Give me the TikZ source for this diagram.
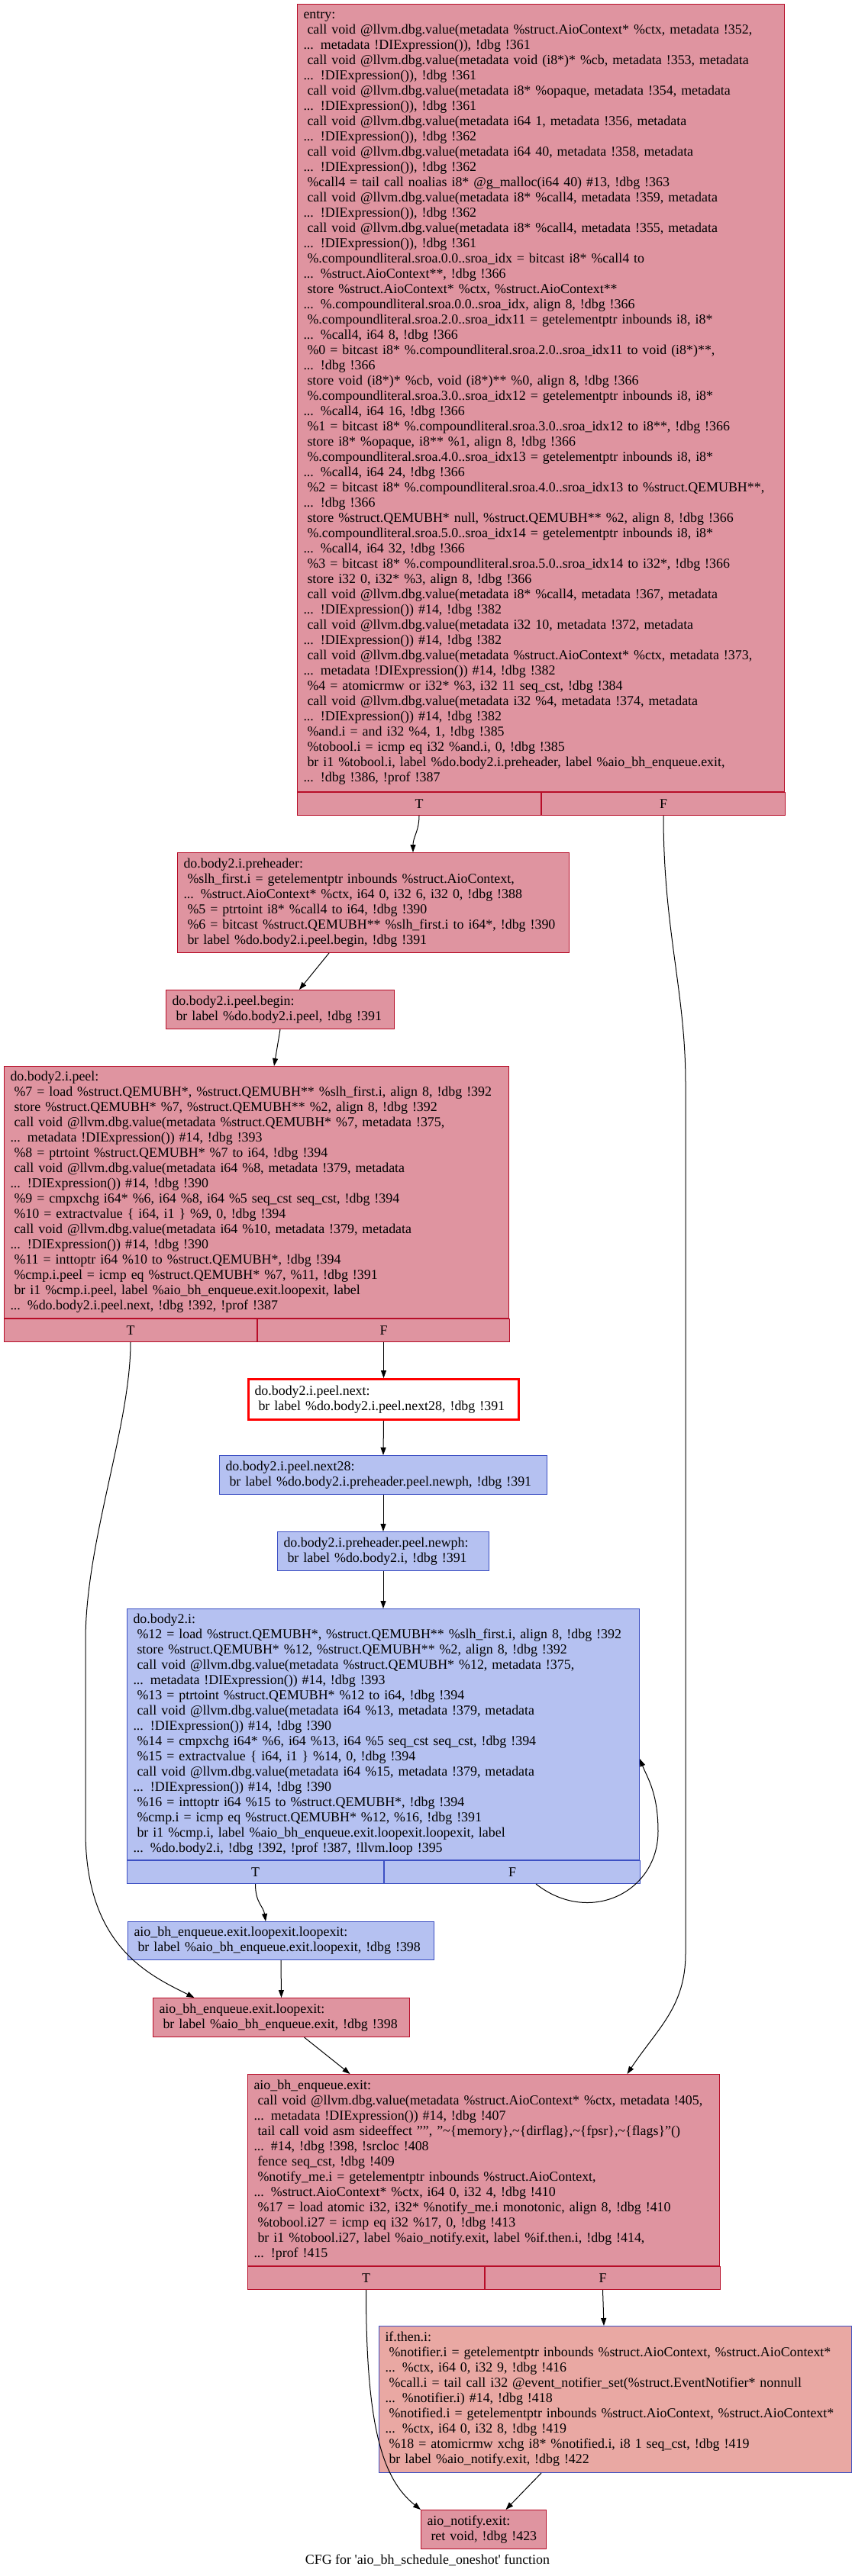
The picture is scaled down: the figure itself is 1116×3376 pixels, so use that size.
\documentclass[tikz,border=0pt]{standalone}
\usepackage{fontspec}
\setmainfont{Liberation Serif}
\usepackage{tikz}
\usetikzlibrary{arrows.meta, positioning}

\definecolor{hotline}{HTML}{B70D28}
\definecolor{hotfill}{RGB}{223,148,160}
\definecolor{coldline}{HTML}{3D50C3}
\definecolor{coldfill}{RGB}{181,193,241}
\definecolor{warmfill}{RGB}{233,168,163}
\newcommand{\lsp}{\hspace*{5pt}}

\begin{document}
\begin{tikzpicture}[
    x=1pt, y=-1pt,
    every node/.style={font=\fontsize{17.9pt}{20pt}\selectfont},
    bb/.style={draw, line width=1pt, anchor=north west, align=left, inner xsep=8pt, inner ysep=0pt},
    hot/.style={bb, draw=hotline, fill=hotfill},
    cold/.style={bb, draw=coldline, fill=coldfill},
    cell/.style={draw, line width=1pt, minimum height=30pt, inner sep=0pt},
    cfgedge/.style={->, line width=1pt},
    >={Triangle[length=10pt, width=7pt]}
]
\useasboundingbox (0,0) rectangle (1116,3376);
\node[hot, text width=622pt, minimum height=1032pt] (entry) at (389,5) {entry:\\
\lsp call void @llvm.dbg.value(metadata \%struct.AioContext* \%ctx, metadata !352,\\
... metadata !DIExpression()), !dbg !361\\
\lsp call void @llvm.dbg.value(metadata void (i8*)* \%cb, metadata !353, metadata\\
... !DIExpression()), !dbg !361\\
\lsp call void @llvm.dbg.value(metadata i8* \%opaque, metadata !354, metadata\\
... !DIExpression()), !dbg !361\\
\lsp call void @llvm.dbg.value(metadata i64 1, metadata !356, metadata\\
... !DIExpression()), !dbg !362\\
\lsp call void @llvm.dbg.value(metadata i64 40, metadata !358, metadata\\
... !DIExpression()), !dbg !362\\
\lsp \%call4 = tail call noalias i8* @g\_malloc(i64 40) \#13, !dbg !363\\
\lsp call void @llvm.dbg.value(metadata i8* \%call4, metadata !359, metadata\\
... !DIExpression()), !dbg !362\\
\lsp call void @llvm.dbg.value(metadata i8* \%call4, metadata !355, metadata\\
... !DIExpression()), !dbg !361\\
\lsp \%.compoundliteral.sroa.0.0..sroa\_idx = bitcast i8* \%call4 to\\
... \%struct.AioContext**, !dbg !366\\
\lsp store \%struct.AioContext* \%ctx, \%struct.AioContext**\\
... \%.compoundliteral.sroa.0.0..sroa\_idx, align 8, !dbg !366\\
\lsp \%.compoundliteral.sroa.2.0..sroa\_idx11 = getelementptr inbounds i8, i8*\\
... \%call4, i64 8, !dbg !366\\
\lsp \%0 = bitcast i8* \%.compoundliteral.sroa.2.0..sroa\_idx11 to void (i8*)**,\\
... !dbg !366\\
\lsp store void (i8*)* \%cb, void (i8*)** \%0, align 8, !dbg !366\\
\lsp \%.compoundliteral.sroa.3.0..sroa\_idx12 = getelementptr inbounds i8, i8*\\
... \%call4, i64 16, !dbg !366\\
\lsp \%1 = bitcast i8* \%.compoundliteral.sroa.3.0..sroa\_idx12 to i8**, !dbg !366\\
\lsp store i8* \%opaque, i8** \%1, align 8, !dbg !366\\
\lsp \%.compoundliteral.sroa.4.0..sroa\_idx13 = getelementptr inbounds i8, i8*\\
... \%call4, i64 24, !dbg !366\\
\lsp \%2 = bitcast i8* \%.compoundliteral.sroa.4.0..sroa\_idx13 to \%struct.QEMUBH**,\\
... !dbg !366\\
\lsp store \%struct.QEMUBH* null, \%struct.QEMUBH** \%2, align 8, !dbg !366\\
\lsp \%.compoundliteral.sroa.5.0..sroa\_idx14 = getelementptr inbounds i8, i8*\\
... \%call4, i64 32, !dbg !366\\
\lsp \%3 = bitcast i8* \%.compoundliteral.sroa.5.0..sroa\_idx14 to i32*, !dbg !366\\
\lsp store i32 0, i32* \%3, align 8, !dbg !366\\
\lsp call void @llvm.dbg.value(metadata i8* \%call4, metadata !367, metadata\\
... !DIExpression()) \#14, !dbg !382\\
\lsp call void @llvm.dbg.value(metadata i32 10, metadata !372, metadata\\
... !DIExpression()) \#14, !dbg !382\\
\lsp call void @llvm.dbg.value(metadata \%struct.AioContext* \%ctx, metadata !373,\\
... metadata !DIExpression()) \#14, !dbg !382\\
\lsp \%4 = atomicrmw or i32* \%3, i32 11 seq\_cst, !dbg !384\\
\lsp call void @llvm.dbg.value(metadata i32 \%4, metadata !374, metadata\\
... !DIExpression()) \#14, !dbg !382\\
\lsp \%and.i = and i32 \%4, 1, !dbg !385\\
\lsp \%tobool.i = icmp eq i32 \%and.i, 0, !dbg !385\\
\lsp br i1 \%tobool.i, label \%do.body2.i.preheader, label \%aio\_bh\_enqueue.exit,\\
... !dbg !386, !prof !387};
\node[cell, draw=hotline, fill=hotfill, minimum width=319pt, below right=0pt of entry.south west] (entryT) {T};
\node[cell, draw=hotline, fill=hotfill, minimum width=319pt, right=0pt of entryT] (entryF) {F};

\node[hot, text width=497pt, minimum height=131pt] (pre) at (232,1117) {do.body2.i.preheader:\\
\lsp \%slh\_first.i = getelementptr inbounds \%struct.AioContext,\\
... \%struct.AioContext* \%ctx, i64 0, i32 6, i32 0, !dbg !388\\
\lsp \%5 = ptrtoint i8* \%call4 to i64, !dbg !390\\
\lsp \%6 = bitcast \%struct.QEMUBH** \%slh\_first.i to i64*, !dbg !390\\
\lsp br label \%do.body2.i.peel.begin, !dbg !391};

\node[hot, text width=283pt, minimum height=51pt] (pbeg) at (217,1297) {do.body2.i.peel.begin:\\
\lsp br label \%do.body2.i.peel, !dbg !391};

\node[hot, text width=645pt, minimum height=330pt] (peel) at (5,1397) {do.body2.i.peel:\\
\lsp \%7 = load \%struct.QEMUBH*, \%struct.QEMUBH** \%slh\_first.i, align 8, !dbg !392\\
\lsp store \%struct.QEMUBH* \%7, \%struct.QEMUBH** \%2, align 8, !dbg !392\\
\lsp call void @llvm.dbg.value(metadata \%struct.QEMUBH* \%7, metadata !375,\\
... metadata !DIExpression()) \#14, !dbg !393\\
\lsp \%8 = ptrtoint \%struct.QEMUBH* \%7 to i64, !dbg !394\\
\lsp call void @llvm.dbg.value(metadata i64 \%8, metadata !379, metadata\\
... !DIExpression()) \#14, !dbg !390\\
\lsp \%9 = cmpxchg i64* \%6, i64 \%8, i64 \%5 seq\_cst seq\_cst, !dbg !394\\
\lsp \%10 = extractvalue \{ i64, i1 \} \%9, 0, !dbg !394\\
\lsp call void @llvm.dbg.value(metadata i64 \%10, metadata !379, metadata\\
... !DIExpression()) \#14, !dbg !390\\
\lsp \%11 = inttoptr i64 \%10 to \%struct.QEMUBH*, !dbg !394\\
\lsp \%cmp.i.peel = icmp eq \%struct.QEMUBH* \%7, \%11, !dbg !391\\
\lsp br i1 \%cmp.i.peel, label \%aio\_bh\_enqueue.exit.loopexit, label\\
... \%do.body2.i.peel.next, !dbg !392, !prof !387};
\node[cell, draw=hotline, fill=hotfill, minimum width=331pt, below right=0pt of peel.south west] (peelT) {T};
\node[cell, draw=hotline, fill=hotfill, minimum width=330pt, right=0pt of peelT] (peelF) {F};

\node[bb, draw=red, line width=3pt, fill=white, text width=338pt, minimum height=53pt] (pnext) at (324,1806) {do.body2.i.peel.next:\\
\lsp br label \%do.body2.i.peel.next28, !dbg !391};

\node[cold, text width=413pt, minimum height=51pt] (pn28) at (287,1907) {do.body2.i.peel.next28:\\
\lsp br label \%do.body2.i.preheader.peel.newph, !dbg !391};

\node[cold, text width=261pt, minimum height=51pt] (newph) at (363,2007) {do.body2.i.preheader.peel.newph:\\
\lsp br label \%do.body2.i, !dbg !391};

\node[cold, text width=655pt, minimum height=329pt] (body) at (166,2108) {do.body2.i:\\
\lsp \%12 = load \%struct.QEMUBH*, \%struct.QEMUBH** \%slh\_first.i, align 8, !dbg !392\\
\lsp store \%struct.QEMUBH* \%12, \%struct.QEMUBH** \%2, align 8, !dbg !392\\
\lsp call void @llvm.dbg.value(metadata \%struct.QEMUBH* \%12, metadata !375,\\
... metadata !DIExpression()) \#14, !dbg !393\\
\lsp \%13 = ptrtoint \%struct.QEMUBH* \%12 to i64, !dbg !394\\
\lsp call void @llvm.dbg.value(metadata i64 \%13, metadata !379, metadata\\
... !DIExpression()) \#14, !dbg !390\\
\lsp \%14 = cmpxchg i64* \%6, i64 \%13, i64 \%5 seq\_cst seq\_cst, !dbg !394\\
\lsp \%15 = extractvalue \{ i64, i1 \} \%14, 0, !dbg !394\\
\lsp call void @llvm.dbg.value(metadata i64 \%15, metadata !379, metadata\\
... !DIExpression()) \#14, !dbg !390\\
\lsp \%16 = inttoptr i64 \%15 to \%struct.QEMUBH*, !dbg !394\\
\lsp \%cmp.i = icmp eq \%struct.QEMUBH* \%12, \%16, !dbg !391\\
\lsp br i1 \%cmp.i, label \%aio\_bh\_enqueue.exit.loopexit.loopexit, label\\
... \%do.body2.i, !dbg !392, !prof !387, !llvm.loop !395};
\node[cell, draw=coldline, fill=coldfill, minimum width=336pt, below right=0pt of body.south west] (bodyT) {T};
\node[cell, draw=coldline, fill=coldfill, minimum width=335pt, right=0pt of bodyT] (bodyF) {F};

\node[cold, text width=385pt, minimum height=50pt] (llexit) at (167,2518) {aio\_bh\_enqueue.exit.loopexit.loopexit:\\
\lsp br label \%aio\_bh\_enqueue.exit.loopexit, !dbg !398};

\node[hot, text width=320pt, minimum height=51pt] (lexit) at (200,2618) {aio\_bh\_enqueue.exit.loopexit:\\
\lsp br label \%aio\_bh\_enqueue.exit, !dbg !398};

\node[hot, text width=602pt, minimum height=251pt] (exit) at (324,2718) {aio\_bh\_enqueue.exit:\\
\lsp call void @llvm.dbg.value(metadata \%struct.AioContext* \%ctx, metadata !405,\\
... metadata !DIExpression()) \#14, !dbg !407\\
\lsp tail call void asm sideeffect "", "\textasciitilde\{memory\},\textasciitilde\{dirflag\},\textasciitilde\{fpsr\},\textasciitilde\{flags\}"()\\
... \#14, !dbg !398, !srcloc !408\\
\lsp fence seq\_cst, !dbg !409\\
\lsp \%notify\_me.i = getelementptr inbounds \%struct.AioContext,\\
... \%struct.AioContext* \%ctx, i64 0, i32 4, !dbg !410\\
\lsp \%17 = load atomic i32, i32* \%notify\_me.i monotonic, align 8, !dbg !410\\
\lsp \%tobool.i27 = icmp eq i32 \%17, 0, !dbg !413\\
\lsp br i1 \%tobool.i27, label \%aio\_notify.exit, label \%if.then.i, !dbg !414,\\
... !prof !415};
\node[cell, draw=hotline, fill=hotfill, minimum width=310pt, below right=0pt of exit.south west] (exitT) {T};
\node[cell, draw=hotline, fill=hotfill, minimum width=308pt, right=0pt of exitT] (exitF) {F};

\node[bb, draw=coldline, fill=warmfill, text width=603pt, minimum height=192pt] (ift) at (496,3048) {if.then.i:\\
\lsp \%notifier.i = getelementptr inbounds \%struct.AioContext, \%struct.AioContext*\\
... \%ctx, i64 0, i32 9, !dbg !416\\
\lsp \%call.i = tail call i32 @event\_notifier\_set(\%struct.EventNotifier* nonnull\\
... \%notifier.i) \#14, !dbg !418\\
\lsp \%notified.i = getelementptr inbounds \%struct.AioContext, \%struct.AioContext*\\
... \%ctx, i64 0, i32 8, !dbg !419\\
\lsp \%18 = atomicrmw xchg i8* \%notified.i, i8 1 seq\_cst, !dbg !419\\
\lsp br label \%aio\_notify.exit, !dbg !422};

\node[hot, text width=148pt, minimum height=51pt] (notify) at (551,3289) {aio\_notify.exit:\\
\lsp ret void, !dbg !423};

\node (cap) at (560,3355) {CFG for \textquotesingle aio\_bh\_schedule\_oneshot\textquotesingle\ function};

\draw[cfgedge] (entryT.south) .. controls +(0,20) and +(0,-20) .. ([xshift=52pt]pre.north);
\draw[cfgedge] (entryF.south) .. controls +(0,150) and +(0,-120) .. (898,1420) -- (898,2560) .. controls +(0,70) and +(40,-60) .. ([xshift=188pt]exit.north);
\draw[cfgedge] ([xshift=-58pt]pre.south) -- ([xshift=25pt]pbeg.north);
\draw[cfgedge] (pbeg.south) -- ([xshift=23pt]peel.north);
\draw[cfgedge] (peelT.south) .. controls +(0,110) and +(0,-130) .. (112,2150) -- (112,2400) .. controls +(0,150) and +(-60,-30) .. ([xshift=-114pt]lexit.north);
\draw[cfgedge] (peelF.south) -- (pnext.north);
\draw[cfgedge] (pnext.south) -- (pn28.north);
\draw[cfgedge] (pn28.south) -- (newph.north);
\draw[cfgedge] (newph.south) -- (body.north);
\draw[cfgedge] (bodyT.south) .. controls +(0,25) and +(-3,-20) .. ([xshift=-20pt]llexit.north);
\draw[cfgedge] ([xshift=31pt]bodyF.south) .. controls +(70,55) and +(0,80) .. (862,2400) .. controls +(0,-50) and +(10,25) .. ([yshift=-32pt]body.east);
\draw[cfgedge] (llexit.south) -- (lexit.north);
\draw[cfgedge] ([xshift=30pt]lexit.south) -- ([xshift=-175pt]exit.north);
\draw[cfgedge] (exitT.south) .. controls +(0,180) and +(-50,-40) .. (notify.north west);
\draw[cfgedge] (exitF.south) -- ([xshift=-15pt]ift.north);
\draw[cfgedge] ([xshift=-97pt]ift.south) -- ([xshift=29pt]notify.north);
\end{tikzpicture}
\end{document}
